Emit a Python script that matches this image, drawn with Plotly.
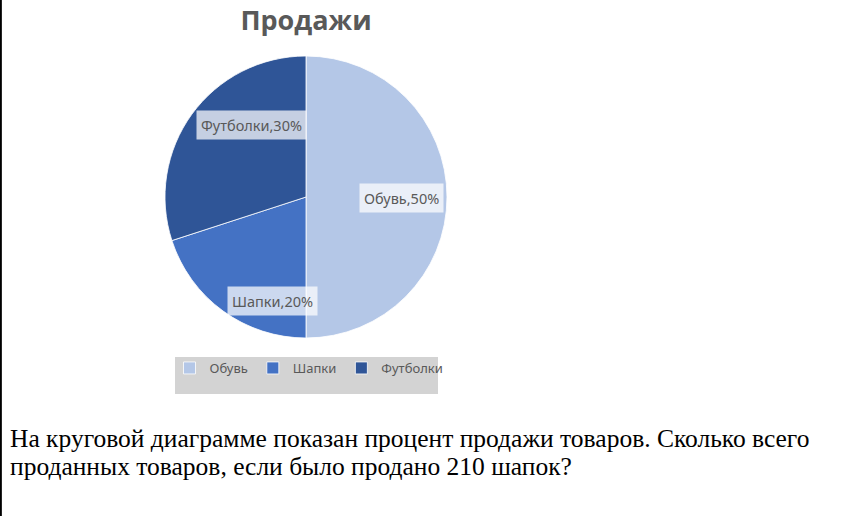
import plotly.graph_objects as go

# data
categories = ['Обувь', 'Шапки', 'Футболки']
percents = [50, 20, 30]
colors = ['#b4c7e7', '#4472c4', '#2f5597']

question = ['На круговой диаграмме показан процент продажи товаров. Сколько всего',
            'проданных товаров, если было продано 210 шапок?']

W, H = 856, 516

def px_x(x):
    return x / W

def px_y(y):
    return 1 - y / H

fig = go.Figure(go.Pie(
    labels=categories, values=percents, sort=False,
    direction='clockwise', rotation=0,
    marker=dict(colors=colors, line=dict(color='white', width=0.8)),
    textinfo='none', hoverinfo='label+percent',
    domain=dict(x=[px_x(165), px_x(447)], y=[px_y(338), px_y(56)]),
))

# data labels in boxes, like the Excel chart
label_pos = [(401, 198), (272, 301), (252, 125)]
annotations = []
for lab, pct, (lx, ly) in zip(categories, percents, label_pos):
    annotations.append(dict(
        text=f'{lab},{pct}%', x=px_x(lx), y=px_y(ly), xref='paper', yref='paper',
        xanchor='center', yanchor='middle',
        showarrow=False, font=dict(family='Noto Sans', size=14.5, color='#595959'),
        bgcolor='rgba(255,255,255,0.72)', borderpad=4,
    ))

# question text under the chart
for i, line in enumerate(question):
    annotations.append(dict(
        text=line, x=px_x(8), y=px_y(438 + i * 28), xref='paper', yref='paper',
        xanchor='left', yanchor='middle', showarrow=False,
        font=dict(family='Liberation Serif', size=25.5, color='black'),
    ))

fig.update_layout(
    width=W, height=H,
    margin=dict(l=0, r=0, t=0, b=0),
    paper_bgcolor='white', plot_bgcolor='white',
    title=dict(text='<b>Продажи</b>', x=px_x(306), xanchor='center',
               y=px_y(21), yanchor='middle', yref='container',
               font=dict(family='Open Sans', size=27, color='#595959')),
    showlegend=True,
    legend=dict(orientation='h', x=px_x(309), xanchor='center',
                y=px_y(368), yanchor='middle', bgcolor='rgba(0,0,0,0)',
                font=dict(family='Noto Sans', size=13, color='#595959'),
                itemclick=False),
    annotations=annotations,
    shapes=[
        dict(type='rect', xref='paper', yref='paper',
             x0=px_x(175), x1=px_x(438), y0=px_y(394), y1=px_y(357),
             fillcolor='#d3d3d3', line=dict(width=0), layer='below'),
        dict(type='line', xref='paper', yref='paper',
             x0=0.001, x1=0.001, y0=0, y1=1, line=dict(color='black', width=2)),
    ],
)

fig.write_html('out.html', config={'displayModeBar': False},
               post_script="document.body.style.margin='0';")
